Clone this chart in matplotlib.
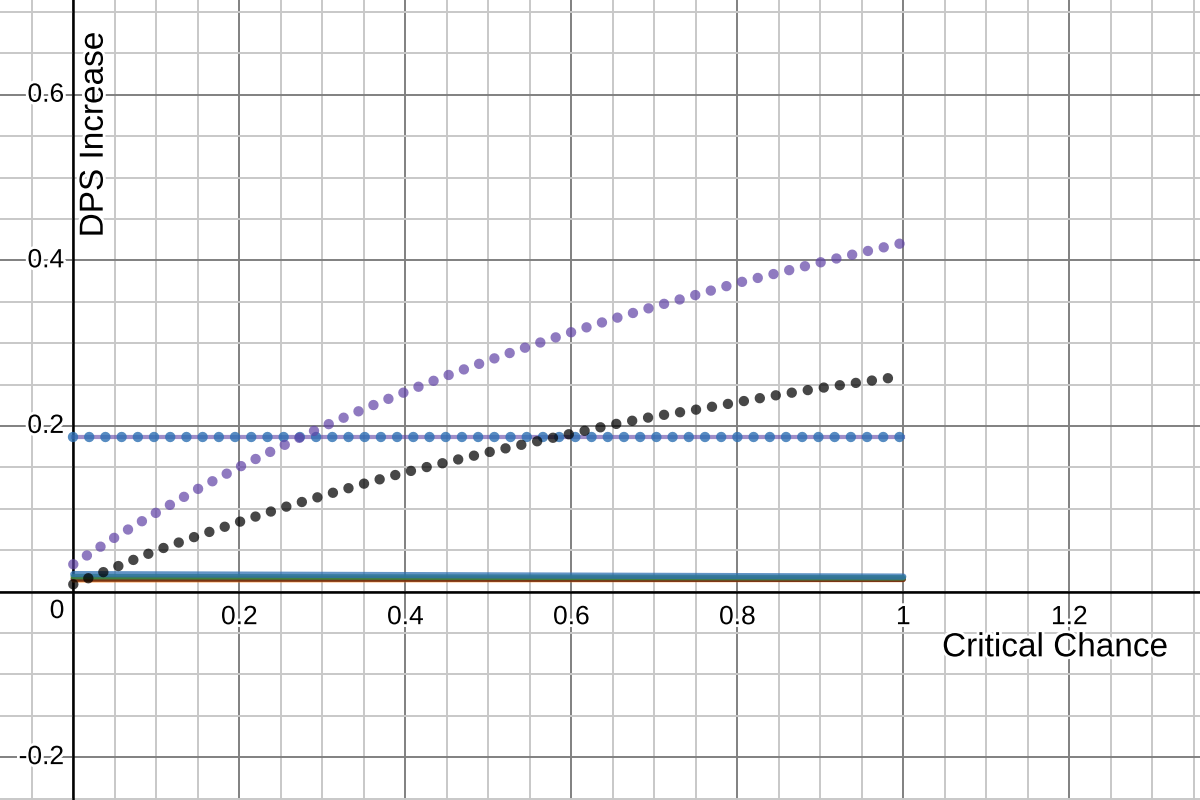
import numpy as np
import matplotlib.pyplot as plt
import matplotlib.patheffects as pe

plt.rcParams['font.family'] = ['Liberation Sans', 'DejaVu Sans']

# ---------------- data ----------------
crit = [0.0, 0.05, 0.1, 0.15, 0.2, 0.25, 0.3, 0.35, 0.4, 0.45, 0.5,
        0.55, 0.6, 0.65, 0.7, 0.75, 0.8, 0.85, 0.9, 0.95, 1.0]
purple_dps = [0.0329, 0.0653, 0.0953, 0.1238, 0.1504, 0.1749, 0.1988, 0.2204,
              0.2411, 0.2607, 0.2790, 0.2965, 0.3132, 0.3291, 0.3441, 0.3582,
              0.3726, 0.3850, 0.3975, 0.4096, 0.4211]
black_dps = [0.0087, 0.0290, 0.0495, 0.0673, 0.0841, 0.1005, 0.1155, 0.1302,
             0.1440, 0.1562, 0.1682, 0.1795, 0.1906, 0.2016, 0.2115, 0.2196,
             0.2286, 0.2376, 0.2457, 0.2530, 0.2603]

flat_x = [0.0, 1.0]
flat_dps = [0.187, 0.187]
blue_low = [0.0210, 0.0180]
green_low = [0.0180, 0.0166]
red_low = [0.0152, 0.0148]
orange_low = [0.0130, 0.0134]

xticks_lab = [0.2, 0.4, 0.6, 0.8, 1, 1.2]
yticks_lab = [-0.2, 0.2, 0.4, 0.6]

# ---------------- figure ----------------
fig = plt.figure(figsize=(12, 8), dpi=100)
ax = fig.add_axes([0, 0, 1, 1])
ax.set_xlim(-0.0883, 1.3575)
ax.set_ylim(-0.2518, 0.7144)

ax.set_xticks(np.arange(0, 1.21, 0.2))
ax.set_xticks(np.arange(-0.05, 1.36, 0.05), minor=True)
ax.set_yticks(np.arange(-0.2, 0.61, 0.2))
ax.set_yticks(np.arange(-0.25, 0.71, 0.05), minor=True)
ax.grid(which='minor', color='#c8c8c8', lw=1.4, zorder=0)
ax.grid(which='major', color='#808080', lw=1.4, zorder=0)
ax.tick_params(which='both', length=0, labelbottom=False, labelleft=False)
for s in ax.spines.values():
    s.set_visible(False)
ax.set_axisbelow(True)
ax.axhline(0, color='black', lw=1.8, zorder=1)
ax.axvline(0, color='black', lw=1.8, zorder=1)

lw_dot = 7.5
dot = (0, (0.001, 11.66 / lw_dot))

# near-flat lines
ax.plot(flat_x, orange_low, color='#fa7e19', lw=2.5, alpha=0.8, zorder=2, solid_capstyle='round')
ax.plot(flat_x, red_low, color='#6b2a10', lw=4, alpha=0.9, zorder=2, solid_capstyle='round')
ax.plot(flat_x, green_low, color='#388c46', lw=4, alpha=0.85, zorder=2, solid_capstyle='round')
ax.plot(flat_x, blue_low, color='#2d70b3', lw=4.5, alpha=0.75, zorder=2, solid_capstyle='round')

# horizontal line with dots on top
ax.plot(flat_x, flat_dps, color='#6042a6', lw=3, alpha=0.6, zorder=3)
ax.plot(flat_x, flat_dps, color='#2d70b3', lw=lw_dot, alpha=0.8, ls=dot,
        dash_capstyle='round', zorder=4)

# dotted curves
ax.plot(crit, purple_dps, color='#6042a6', lw=lw_dot, alpha=0.7, ls=dot,
        dash_capstyle='round', zorder=5)
ax.plot(crit, black_dps, color='#000000', lw=lw_dot, alpha=0.72, ls=dot,
        dash_capstyle='round', zorder=5)

# tick labels, desmos style
halo = [pe.withStroke(linewidth=4, foreground='white')]
for v in xticks_lab:
    ax.text(v, -0.031, str(v), fontsize=19, ha='center', va='center',
            path_effects=halo, zorder=6)
for v in yticks_lab:
    ax.text(-0.0112, v, str(v), fontsize=19, ha='right', va='center',
            path_effects=halo, zorder=6)
ax.text(-0.0196, -0.0236, '0', fontsize=19, ha='center', va='center',
        path_effects=halo, zorder=6)

ax.text(1.319, -0.068, 'Critical Chance', fontsize=24, ha='right', va='center',
        path_effects=halo, zorder=6)
ax.text(0.0252, 0.552, 'DPS Increase', fontsize=24, rotation=90,
        ha='center', va='center', path_effects=halo, zorder=6)

fig.savefig('out.png', dpi=100)
